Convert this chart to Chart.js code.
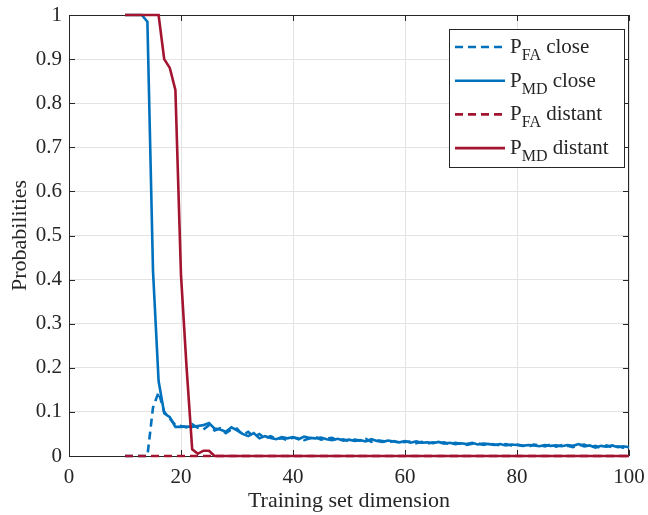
<!DOCTYPE html>
<html>
<head>
<meta charset="utf-8">
<script src="https://cdn.jsdelivr.net/npm/chart.js@4.4.1/dist/chart.umd.min.js"></script>
<style>
  html, body { margin: 0; padding: 0; background: #fff; }
  #wrap { width: 648px; height: 515px; }
</style>
</head>
<body>
<div id="wrap"><canvas id="grafico" width="648" height="515"></canvas></div>
<script>
// training set sizes used in the simulation
const dimensions = [
  10, 11, 12, 13, 14, 15, 16, 17, 18, 19,
  20, 21, 22, 23, 24, 25, 26, 27, 28, 29,
  30, 31, 32, 33, 34, 35, 36, 37, 38, 39,
  40, 41, 42, 43, 44, 45, 46, 47, 48, 49,
  50, 51, 52, 53, 54, 55, 56, 57, 58, 59,
  60, 61, 62, 63, 64, 65, 66, 67, 68, 69,
  70, 71, 72, 73, 74, 75, 76, 77, 78, 79,
  80, 81, 82, 83, 84, 85, 86, 87, 88, 89,
  90, 91, 92, 93, 94, 95, 96, 97, 98, 99,
  100
];

const pfaClose = [
  0, 0, 0, 0, 0, 0.11, 0.145, 0.1, 0.085, 0.07,
  0.068, 0.065, 0.072, 0.064, 0.06, 0.07, 0.058, 0.063, 0.052, 0.06,
  0.062, 0.048, 0.055, 0.043, 0.05, 0.04, 0.045, 0.039, 0.04, 0.036,
  0.042, 0.04, 0.036, 0.04, 0.043, 0.037, 0.04, 0.041, 0.035, 0.038,
  0.033, 0.037, 0.035, 0.039, 0.032, 0.036, 0.034, 0.031, 0.034, 0.03,
  0.032, 0.033, 0.029, 0.032, 0.028, 0.031, 0.029, 0.031, 0.027, 0.03,
  0.028, 0.025, 0.028, 0.029, 0.025, 0.028, 0.026, 0.024, 0.027, 0.024,
  0.026, 0.024, 0.021, 0.026, 0.024, 0.022, 0.026, 0.021, 0.025, 0.023,
  0.02, 0.024, 0.026, 0.02, 0.023, 0.018, 0.024, 0.02, 0.022, 0.019,
  0.018
];

const pmdClose = [
  1, 1, 1, 1, 0.985, 0.42, 0.17, 0.097, 0.088, 0.066,
  0.066, 0.067, 0.066, 0.068, 0.07, 0.075, 0.062, 0.06, 0.055, 0.065,
  0.058, 0.05, 0.045, 0.052, 0.04, 0.045, 0.041, 0.038, 0.043, 0.04,
  0.043, 0.038, 0.044, 0.041, 0.04, 0.042, 0.038, 0.036, 0.039, 0.035,
  0.037, 0.034, 0.036, 0.033, 0.038, 0.034, 0.032, 0.035, 0.033, 0.031,
  0.034, 0.03, 0.033, 0.03, 0.031, 0.029, 0.032, 0.028, 0.03, 0.027,
  0.029, 0.027, 0.03, 0.026, 0.028, 0.027, 0.025, 0.027, 0.024, 0.026,
  0.025, 0.023, 0.025, 0.024, 0.022, 0.025, 0.023, 0.024, 0.022, 0.025,
  0.023, 0.027, 0.022, 0.024, 0.019, 0.023, 0.021, 0.024, 0.02, 0.022,
  0.02
];

const pfaDistant = [
  0, 0, 0, 0, 0, 0, 0, 0, 0, 0,
  0, 0, 0, 0, 0, 0, 0, 0, 0, 0,
  0, 0, 0, 0, 0, 0, 0, 0, 0, 0,
  0, 0, 0, 0, 0, 0, 0, 0, 0, 0,
  0, 0, 0, 0, 0, 0, 0, 0, 0, 0,
  0, 0, 0, 0, 0, 0, 0, 0, 0, 0,
  0, 0, 0, 0, 0, 0, 0, 0, 0, 0,
  0, 0, 0, 0, 0, 0, 0, 0, 0, 0,
  0, 0, 0, 0, 0, 0, 0, 0, 0, 0,
  0
];

const pmdDistant = [
  1, 1, 1, 1, 1, 1, 1, 0.9, 0.88, 0.83,
  0.41, 0.2, 0.015, 0.005, 0.012, 0.012, 0, 0, 0, 0,
  0, 0, 0, 0, 0, 0, 0, 0, 0, 0,
  0, 0, 0, 0, 0, 0, 0, 0, 0, 0,
  0, 0, 0, 0, 0, 0, 0, 0, 0, 0,
  0, 0, 0, 0, 0, 0, 0, 0, 0, 0,
  0, 0, 0, 0, 0, 0, 0, 0, 0, 0,
  0, 0, 0, 0, 0, 0, 0, 0, 0, 0,
  0, 0, 0, 0, 0, 0, 0, 0, 0, 0,
  0
];

const xTicks = [0, 20, 40, 60, 80, 100];
const xTickLabels = ['0', '20', '40', '60', '80', '100'];
const yTicks = [0, 0.1, 0.2, 0.3, 0.4, 0.5, 0.6, 0.7, 0.8, 0.9, 1];
const yTickLabels = ['0', '0.1', '0.2', '0.3', '0.4', '0.5', '0.6', '0.7', '0.8', '0.9', '1'];

// legend text: P with subscript, then the scenario
const legendSubs = ['FA', 'MD', 'FA', 'MD'];
const legendNames = [' close', ' close', ' distant', ' distant'];

const BLUE = '#0072BD';
const RED = '#A2142F';
const AXIS = '#262626';
const SERIF = '"Liberation Serif", "Times New Roman", serif';
const LINE_W = 2.6;

function pontos(ys) {
  return dimensions.map((d, i) => ({ x: d, y: ys[i] }));
}

function serie(ys, color, dashed, order) {
  return {
    data: pontos(ys),
    borderColor: color,
    borderWidth: LINE_W,
    borderDash: dashed ? [8, 5] : [],
    pointRadius: 0,
    tension: 0,
    fill: false,
    clip: 4,
    order: order
  };
}

// box around the axes with inward ticks on all four sides
const boxPlugin = {
  id: 'box',
  beforeDatasetsDraw(chart) {
    const { ctx, chartArea: a, scales } = chart;
    const len = 6;
    ctx.save();
    ctx.strokeStyle = AXIS;
    ctx.lineWidth = 1;
    ctx.strokeRect(a.left + 0.5, a.top + 0.5, a.right - a.left - 1, a.bottom - a.top);
    ctx.beginPath();
    xTicks.forEach(v => {
      const px = Math.round(scales.x.getPixelForValue(v)) + 0.5;
      ctx.moveTo(px, a.bottom); ctx.lineTo(px, a.bottom - len);
      ctx.moveTo(px, a.top); ctx.lineTo(px, a.top + len);
    });
    yTicks.forEach(v => {
      const py = Math.round(scales.y.getPixelForValue(v)) + 0.5;
      ctx.moveTo(a.left, py); ctx.lineTo(a.left + len, py);
      ctx.moveTo(a.right, py); ctx.lineTo(a.right - len, py);
    });
    ctx.stroke();
    ctx.restore();
  }
};

const legendPlugin = {
  id: 'legenda',
  afterDatasetsDraw(chart) {
    const { ctx, chartArea: a } = chart;
    const left = a.right - 180, top = a.top + 14, w = 175, h = 138;
    const colors = [BLUE, BLUE, RED, RED];
    const dashed = [true, false, true, false];
    ctx.save();
    ctx.fillStyle = '#fff';
    ctx.fillRect(left, top, w, h);
    ctx.strokeStyle = AXIS;
    ctx.lineWidth = 1;
    ctx.strokeRect(left + 0.5, top + 0.5, w, h);
    legendSubs.forEach((sub, i) => {
      const y = top + 18 + i * 33.7;
      ctx.beginPath();
      ctx.strokeStyle = colors[i];
      ctx.lineWidth = LINE_W;
      ctx.setLineDash(dashed[i] ? [8, 5] : []);
      ctx.moveTo(left + 6, y);
      ctx.lineTo(left + 56, y);
      ctx.stroke();
      ctx.setLineDash([]);
      ctx.fillStyle = AXIS;
      ctx.textBaseline = 'alphabetic';
      let x = left + 61;
      ctx.font = '21px ' + SERIF;
      ctx.fillText('P', x, y + 6);
      x += ctx.measureText('P').width;
      ctx.font = '16px ' + SERIF;
      ctx.fillText(sub, x, y + 13);
      x += ctx.measureText(sub).width;
      ctx.font = '21px ' + SERIF;
      ctx.fillText(legendNames[i], x, y + 6);
    });
    ctx.restore();
  }
};

new Chart(document.getElementById('grafico'), {
  type: 'line',
  data: {
    datasets: [
      serie(pfaClose, BLUE, true, 3),
      serie(pmdClose, BLUE, false, 2),
      serie(pfaDistant, RED, true, 1),
      serie(pmdDistant, RED, false, 0)
    ]
  },
  options: {
    responsive: false,
    animation: false,
    events: [],
    layout: { padding: { left: 0, right: 19, top: 15, bottom: 0 } },
    plugins: {
      legend: { display: false },
      tooltip: { enabled: false }
    },
    scales: {
      x: {
        type: 'linear',
        min: 0,
        max: 100,
        afterBuildTicks: s => { s.ticks = xTicks.map(v => ({ value: v })); },
        afterFit: s => { s.height = 59; s.paddingLeft = 0; s.paddingRight = 0; },
        ticks: {
          color: AXIS,
          font: { family: SERIF, size: 21 },
          padding: 9,
          maxRotation: 0,
          callback: (v) => xTickLabels[xTicks.indexOf(v)]
        },
        grid: { color: '#e3e3e3', drawTicks: false },
        border: { display: false },
        title: {
          display: true,
          text: 'Training set dimension',
          color: AXIS,
          font: { family: SERIF, size: 22 },
          padding: { top: 0, bottom: 1 }
        }
      },
      y: {
        type: 'linear',
        min: 0,
        max: 1,
        afterBuildTicks: s => { s.ticks = yTicks.map(v => ({ value: v })); },
        afterFit: s => { s.width = 69; s.paddingTop = 0; s.paddingBottom = 0; },
        ticks: {
          color: AXIS,
          font: { family: SERIF, size: 21 },
          padding: 7,
          callback: (v) => yTickLabels[yTicks.indexOf(v)]
        },
        grid: { color: '#e3e3e3', drawTicks: false },
        border: { display: false },
        title: {
          display: true,
          text: 'Probabilities',
          color: AXIS,
          font: { family: SERIF, size: 22 },
          padding: { top: 7, bottom: 0 }
        }
      }
    }
  },
  plugins: [boxPlugin, legendPlugin]
});
</script>
</body>
</html>
